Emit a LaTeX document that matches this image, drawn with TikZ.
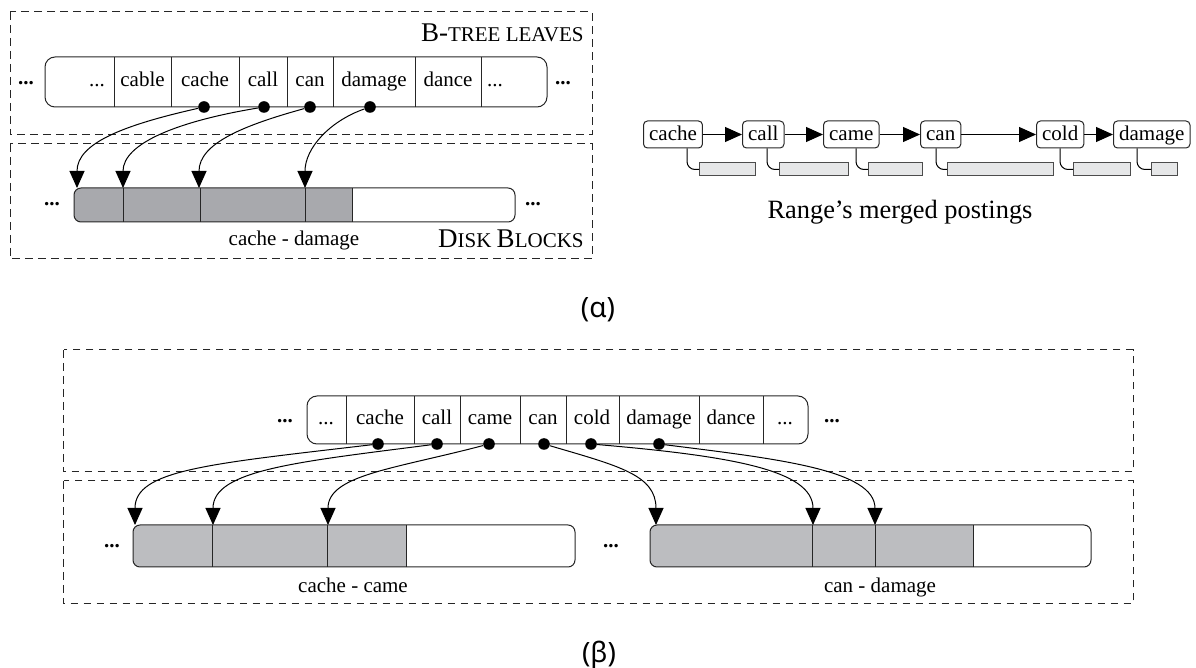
\documentclass[tikz,border=0pt]{standalone}
\usepackage{fontspec}
\setmainfont{Liberation Serif}
\newfontfamily\lblfont{Noto Sans}
\usetikzlibrary{arrows.meta,calc}

\definecolor{diskgrayA}{RGB}{168,169,173}
\definecolor{diskgrayB}{RGB}{188,189,192}
\definecolor{postgray}{RGB}{230,231,232}

\tikzset{
  frame/.style={draw=black!85, line width=0.5pt, dash pattern=on 3.8pt off 2.7pt},
  leafbox/.style={draw=black!85, line width=0.5pt, rounded corners=5pt},
  diskbox/.style={draw=black!85, line width=0.5pt, rounded corners=3.5pt},
  divider/.style={draw=black!85, line width=0.5pt},
  celltxt/.style={anchor=base, inner sep=0pt, font=\fontsize{10.5}{12}\selectfont},
  moredots/.style={anchor=base, inner sep=0pt, font=\fontsize{10.5}{12}\selectfont\bfseries},
  ptr/.style={circle, fill=black, inner sep=0pt, minimum size=5.8pt},
  link/.style={line width=0.5pt, -{Triangle[length=8.5pt,width=7.5pt]}},
  term/.style={draw=black!85, line width=0.5pt, rounded corners=2pt, anchor=west,
    font=\fontsize{10.5}{12}\selectfont, inner xsep=2.8pt, inner ysep=0pt,
    minimum height=13.5pt, text height=1.55ex, text depth=0.3ex},
  posting/.style={draw=black!70, fill=postgray, line width=0.5pt, anchor=west,
    inner sep=0pt, minimum height=6.5pt},
  hook/.style={line width=0.5pt, rounded corners=4pt},
  caption/.style={anchor=base, inner sep=0pt, font=\fontsize{10.5}{12}\selectfont},
  panel/.style={font=\lblfont\fontsize{14}{16}\selectfont, inner sep=0pt},
}

\begin{document}
\begin{tikzpicture}[x=0.5pt, y=-0.5pt]
\useasboundingbox (0,0) rectangle (1196,668);

% ---------------- (alpha), left: B-tree leaves over disk blocks ----------------
\draw[frame] (10,12) rectangle (592,135);
\draw[frame] (10,144) rectangle (592,259);

\node[anchor=base east, inner sep=0pt] (lbl-btree) at (584,42)
  {\fontsize{13.5}{15}\selectfont B-\fontsize{10.5}{12}\selectfont TREE LEAVES};
\node[anchor=base east, inner sep=0pt] (lbl-disk) at (584,248)
  {\fontsize{13.5}{15}\selectfont D\fontsize{10.5}{12}\selectfont ISK
   \fontsize{13.5}{15}\selectfont B\fontsize{10.5}{12}\selectfont LOCKS};

% leaf page
\draw[leafbox] (45,57) rectangle (547,107);
\foreach \x in {114,171,239,287,333,415,481} \draw[divider] (\x,57) -- (\x,107);
\node[celltxt] (a-l0) at (97,87) {...};
\node[celltxt] (a-l1) at (142.5,87) {cable};
\node[celltxt] (a-l2) at (205,87) {cache};
\node[celltxt] (a-l3) at (263,87) {call};
\node[celltxt] (a-l4) at (310,87) {can};
\node[celltxt] (a-l5) at (374,87) {damage};
\node[celltxt] (a-l6) at (448,87) {dance};
\node[celltxt] (a-l7) at (495,87) {...};
\node[moredots] (a-lm1) at (26,85) {...};
\node[moredots] (a-lm2) at (563,85) {...};

% disk block
\begin{scope}
  \clip[rounded corners=3.5pt] (74,188) rectangle (515,222);
  \fill[diskgrayA] (74,188) rectangle (352,222);
\end{scope}
\draw[diskbox] (74,188) rectangle (515,222);
\foreach \x in {123,200,305,352} \draw[divider] (\x,188) -- (\x,222);
\node[moredots] (a-dm1) at (52,206) {...};
\node[moredots] (a-dm2) at (533,206) {...};
\node[caption] (a-range) at (294,246) {cache - damage};

\coordinate (a-t1) at (77,188);
\coordinate (a-t2) at (123,188);
\coordinate (a-t3) at (199,188);
\coordinate (a-t4) at (305,188);
\node[ptr] (a-cache) at (204,107) {};
\node[ptr] (a-call) at (264,107) {};
\node[ptr] (a-can) at (310,107) {};
\node[ptr] (a-damage) at (370,107) {};
\draw[link] (a-cache) .. controls +(-80,18) and +(0,-45) .. (a-t1);
\draw[link] (a-call) .. controls +(-85,14) and +(0,-45) .. (a-t2);
\draw[link] (a-can) .. controls +(-65,18) and +(0,-45) .. (a-t3);
\draw[link] (a-damage) .. controls +(-40,14) and +(0,-40) .. (a-t4);

% ---------------- (alpha), right: merged posting lists ----------------
\node[term] (r-cache) at (643,134.5) {cache};
\node[term] (r-call) at (742,134.5) {call};
\node[term] (r-came) at (823,134.5) {came};
\node[term] (r-can) at (920,134.5) {can};
\node[term] (r-cold) at (1036,134.5) {cold};
\node[term] (r-damage) at (1113,134.5) {damage};
\draw[link] (r-cache) -- (r-call);
\draw[link] (r-call) -- (r-came);
\draw[link] (r-came) -- (r-can);
\draw[link] (r-can) -- (r-cold);
\draw[link] (r-cold) -- (r-damage);

\node[posting, minimum width=28pt] (p-cache) at (699,169.5) {};
\node[posting, minimum width=34.5pt] (p-call) at (779,169.5) {};
\node[posting, minimum width=27pt] (p-came) at (868,169.5) {};
\node[posting, minimum width=53pt] (p-can) at (947,169.5) {};
\node[posting, minimum width=28.5pt] (p-cold) at (1073,169.5) {};
\node[posting, minimum width=13pt] (p-damage) at (1151,169.5) {};
\draw[hook] ($(r-cache.south west)+(44,0)$) |- (p-cache.west);
\draw[hook] ($(r-call.south west)+(25,0)$) |- (p-call.west);
\draw[hook] ($(r-came.south west)+(33,0)$) |- (p-came.west);
\draw[hook] ($(r-can.south west)+(16,0)$) |- (p-can.west);
\draw[hook] ($(r-cold.south west)+(24,0)$) |- (p-cold.west);
\draw[hook] ($(r-damage.south west)+(24,0)$) |- (p-damage.west);

\node[anchor=base, inner sep=0pt, font=\fontsize{13.2}{15}\selectfont] (r-caption) at (900,219)
  {Range’s merged postings};

\node[panel] (lbl-alpha) at (598,310) {(α)};

% ---------------- (beta): leaves pointing into two disk blocks ----------------
\draw[frame] (63.6,350) rectangle (1133,472);
\draw[frame] (63.6,481) rectangle (1133,604);

\draw[leafbox] (307,396) rectangle (808,444);
\foreach \x in {346,414,460,520,566,619,699,763} \draw[divider] (\x,396) -- (\x,444);
\node[celltxt] (b-l0) at (326,425) {...};
\node[celltxt] (b-l1) at (380,425) {cache};
\node[celltxt] (b-l2) at (437,425) {call};
\node[celltxt] (b-l3) at (490,425) {came};
\node[celltxt] (b-l4) at (543,425) {can};
\node[celltxt] (b-l5) at (592,425) {cold};
\node[celltxt] (b-l6) at (659,425) {damage};
\node[celltxt] (b-l7) at (731,425) {dance};
\node[celltxt] (b-l8) at (785,425) {...};
\node[moredots] (b-lm1) at (285,423) {...};
\node[moredots] (b-lm2) at (832,423) {...};

% first disk block
\begin{scope}
  \clip[rounded corners=3.5pt] (133,525) rectangle (575,567);
  \fill[diskgrayB] (133,525) rectangle (406,567);
\end{scope}
\draw[diskbox] (133,525) rectangle (575,567);
\foreach \x in {212,327,406} \draw[divider] (\x,525) -- (\x,567);
\node[caption] (b-range1) at (353,593) {cache - came};

% second disk block
\begin{scope}
  \clip[rounded corners=3.5pt] (650,525) rectangle (1091,567);
  \fill[diskgrayB] (650,525) rectangle (973,567);
\end{scope}
\draw[diskbox] (650,525) rectangle (1091,567);
\foreach \x in {812,875,973} \draw[divider] (\x,525) -- (\x,567);
\node[caption] (b-range2) at (880,593) {can - damage};

\node[moredots] (b-dm1) at (112,548) {...};
\node[moredots] (b-dm2) at (611,548) {...};

\coordinate (b-t1) at (135,525);
\coordinate (b-t2) at (213,525);
\coordinate (b-t3) at (328,525);
\coordinate (b-t4) at (656,525);
\coordinate (b-t5) at (813,525);
\coordinate (b-t6) at (875,525);
\node[ptr] (b-cache) at (378,444) {};
\node[ptr] (b-call) at (437,444) {};
\node[ptr] (b-came) at (489,444) {};
\node[ptr] (b-can) at (544,444) {};
\node[ptr] (b-cold) at (591,444) {};
\node[ptr] (b-damage) at (659,444) {};
\draw[link] (b-cache) .. controls +(-170,20) and +(0,-55) .. (b-t1);
\draw[link] (b-call) .. controls +(-140,18) and +(0,-55) .. (b-t2);
\draw[link] (b-came) .. controls +(-95,25) and +(0,-50) .. (b-t3);
\draw[link] (b-can) .. controls +(75,22) and +(0,-50) .. (b-t4);
\draw[link] (b-cold) .. controls +(140,12) and +(0,-55) .. (b-t5);
\draw[link] (b-damage) .. controls +(120,15) and +(0,-55) .. (b-t6);

\node[panel] (lbl-beta) at (599,655) {(β)};
\end{tikzpicture}
\end{document}
